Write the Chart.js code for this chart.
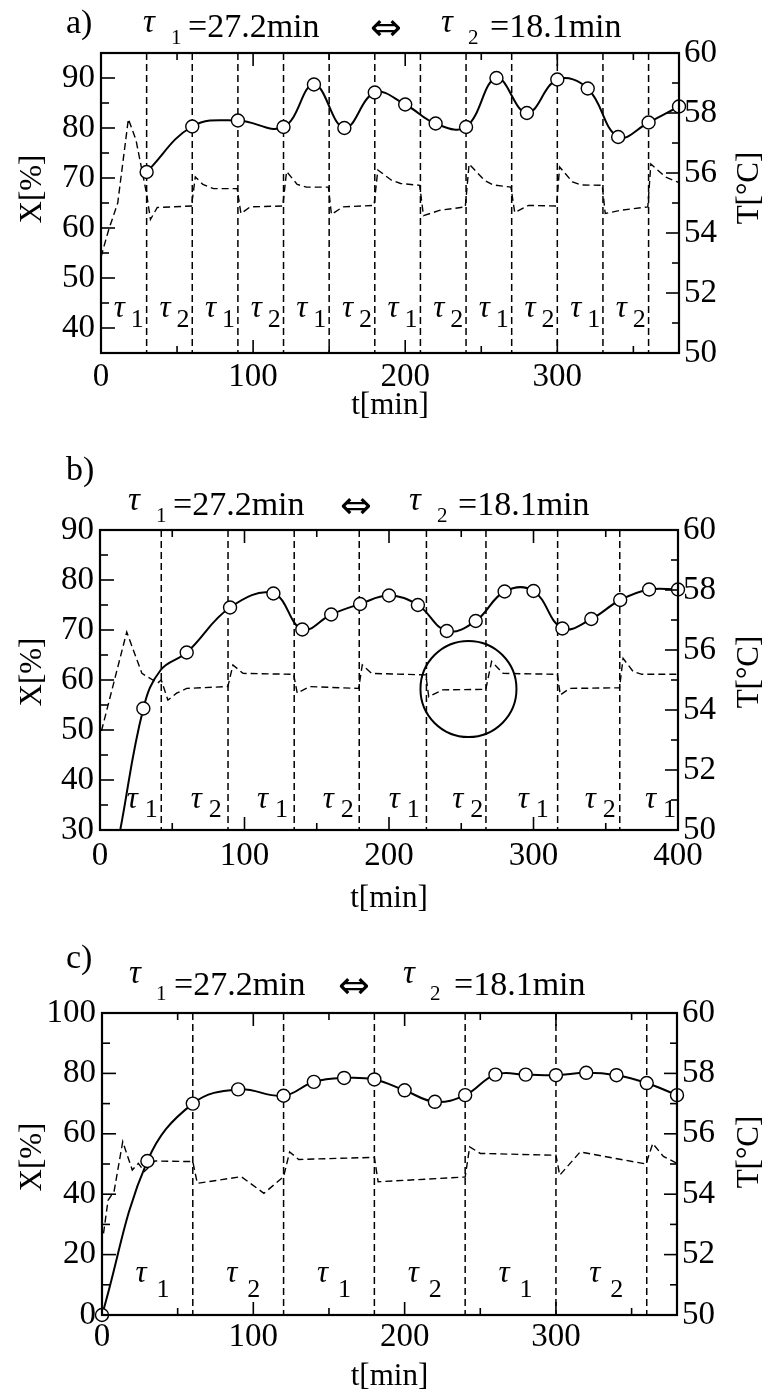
<!DOCTYPE html>
<html>
<head>
<meta charset="utf-8">
<title>Conversion and reactor temperature under alternating residence times</title>
<script src="https://cdn.jsdelivr.net/npm/chart.js@4.4.1/dist/chart.umd.min.js"></script>
<style>
  html, body { margin: 0; padding: 0; background: #fff; }
  #page { position: relative; width: 770px; height: 1394px; overflow: hidden; background: #fff; }
  #page canvas { position: absolute; left: 0; }
</style>
</head>
<body>
<div id="page">
  <canvas id="pa" width="770" height="450" style="top:0px"></canvas>
  <canvas id="pb" width="770" height="490" style="top:450px"></canvas>
  <canvas id="pc" width="770" height="454" style="top:940px"></canvas>
</div>
<script>
// ---------- panel a: residence time switched every 30 min ----------
const switchA = [30, 60, 90, 120, 150, 180, 210, 240, 270, 300, 330, 360];
const phaseA = [1, 2, 1, 2, 1, 2, 1, 2, 1, 2, 1, 2];
const sampleTimeA = [30, 60, 90, 120, 140, 160, 180, 200, 220, 240, 260, 280, 300, 320, 340, 360, 380];
const conversionA = [71.2, 80.3, 81.5, 80.2, 88.7, 80.0, 87.1, 84.7, 80.9, 80.2, 90.0, 83.0, 89.7, 87.9, 78.2, 81.1, 84.3];
const tempTimeA = [0, 5, 11, 18, 23, 30, 32.5, 37, 59.5, 62, 67, 74, 89.5, 92, 98, 119.5, 122, 129, 135, 149.5,
                   151.5, 159, 179.5, 182, 191, 197, 209.5, 212, 223, 239.5, 242, 252, 258, 269.5, 272, 281, 299.5,
                   301.5, 310, 316, 329.5, 331.5, 342, 359.5, 361.5, 371, 380];
const tempA = [53.2, 54.1, 55.0, 57.8, 57.1, 55.3, 54.45, 54.85, 54.9, 55.87, 55.62, 55.48, 55.48, 54.65, 54.87, 54.9,
               56.05, 55.62, 55.53, 55.53, 54.62, 54.87, 54.92, 56.1, 55.76, 55.65, 55.59, 54.58, 54.76, 54.87, 56.3,
               55.76, 55.6, 55.53, 54.68, 54.92, 54.9, 56.2, 55.7, 55.6, 55.59, 54.65, 54.76, 54.87, 56.3, 55.87, 55.68];
const xTicksA = [0, 100, 200, 300];
const xMinorA = [50, 150, 250, 350];
const yTicksA = [40, 50, 60, 70, 80, 90];
const yMinorA = [45, 55, 65, 75, 85];

// ---------- panel b: irregular switching ----------
const switchB = [42.4, 88.6, 134.4, 179.4, 225.9, 267.1, 316.7, 359.7];
const phaseB = [1, 2, 1, 2, 1, 2, 1, 2, 1];
const sampleTimeB = [30, 60, 90, 120, 140, 160, 180, 200, 220, 240, 260, 280, 300, 320, 340, 360, 380, 400];
const conversionB = [54.3, 65.5, 74.5, 77.3, 70.1, 73.1, 75.2, 76.9, 75.0, 69.8, 71.8, 77.7, 77.8, 70.3, 72.2, 76.0, 78.1, 78.1];
const startupTimeB = [14, 42];
const startupConvB = [30, 62];
const tempTimeB = [1, 18.5, 29, 40, 42.4, 47, 53, 60, 88.5, 92, 99, 134, 136.5, 145, 179, 181.5, 188, 225.5, 227.5,
                   237, 267, 271, 279, 316.5, 318.5, 325, 359.5, 362, 369, 375, 400];
const tempB = [53.3, 56.6, 55.22, 54.9, 55.0, 54.33, 54.56, 54.72, 54.78, 55.5, 55.22, 55.19, 54.56, 54.78, 54.72,
               55.5, 55.22, 55.17, 54.44, 54.67, 54.69, 55.62, 55.22, 55.19, 54.5, 54.72, 54.74, 55.72, 55.28, 55.19, 55.19];
const ringTimeB = [255];
const ringConvB = [58.2];
const xTicksB = [0, 100, 200, 300, 400];
const xMinorB = [50, 150, 250, 350];
const yTicksB = [30, 40, 50, 60, 70, 80, 90];
const yMinorB = [35, 45, 55, 65, 75, 85];

// ---------- panel c: residence time switched every 60 min ----------
const switchC = [60, 120, 180, 240, 300, 360];
const phaseC = [1, 2, 1, 2, 1, 2];
const sampleTimeC = [0, 30, 60, 90, 120, 140, 160, 180, 200, 220, 240, 260, 280, 300, 320, 340, 360, 380];
const conversionC = [0, 51.0, 70.0, 74.7, 72.6, 77.2, 78.5, 78.0, 74.4, 70.6, 72.8, 79.6, 79.6, 79.4, 80.2, 79.4, 76.8, 72.8];
const tempTimeC = [1, 4, 8, 13.7, 20, 24, 28, 35, 60, 63, 92, 107, 120, 124, 130, 180, 182.5, 240, 243, 250, 300,
                   302.5, 316, 359.5, 364, 371, 380];
const tempC = [52.7, 53.8, 54.1, 55.74, 54.8, 55.02, 54.75, 55.1, 55.08, 54.36, 54.58, 54.03, 54.58, 55.4, 55.15,
               55.22, 54.41, 54.57, 55.57, 55.35, 55.29, 54.63, 55.4, 55.0, 55.68, 55.25, 55.02];
const xTicksC = [0, 100, 200, 300];
const xMinorC = [50, 150, 250, 350];
const yTicksC = [0, 20, 40, 60, 80, 100];
const yMinorC = [10, 30, 50, 70, 90];

// ---------- shared temperature axis ----------
const tempTicks = [50, 52, 54, 56, 58, 60];
const tempMinor = [51, 53, 55, 57, 59];

const FONT = "'Liberation Serif', 'Times New Roman', Times, serif";
const INK = '#000';

const PANELS = {
  pa: {
    letter: 'a)', xMax: 380, yMin: 35, yMax: 95,
    switches: switchA, phases: phaseA,
    sampleT: sampleTimeA, sampleX: conversionA, leadT: [], leadX: [],
    tempT: tempTimeA, temp: tempA, ringT: [], ringX: [],
    xTicks: xTicksA, xMinor: xMinorA, yTicks: yTicksA, yMinor: yMinorA,
    box: { left: 101, right: 679, top: 53, xHeight: 97, xPad: 5 },
    tau: { dx: -10, subDx: 17, base: -36, subBase: -26 },
    title: { letter: [66, 33], tau1: [143, 32], sub1: [171, 44], eq1: [188, 37], arrow: [370, 40],
             tau2: [441, 32], sub2: [468, 44], eq2: [490, 37] },
    axisTitles: { yLeft: 189, yRight: 188, x: 406 }
  },
  pb: {
    letter: 'b)', xMax: 400, yMin: 30, yMax: 90,
    switches: switchB, phases: phaseB,
    sampleT: sampleTimeB, sampleX: conversionB, leadT: startupTimeB, leadX: startupConvB,
    tempT: tempTimeB, temp: tempB, ringT: ringTimeB, ringX: ringConvB,
    xTicks: xTicksB, xMinor: xMinorB, yTicks: yTicksB, yMinor: yMinorB,
    box: { left: 100, right: 678, top: 80, xHeight: 110, xPad: 7 },
    tau: { dx: -4, subDx: 18, base: -22, subBase: -13 },
    title: { letter: [66, 30], tau1: [128, 60], sub1: [156, 72], eq1: [173, 65], arrow: [340, 68],
             tau2: [409, 60], sub2: [437, 72], eq2: [458, 65] },
    axisTitles: { yLeft: 222, yRight: 222, x: 449 }
  },
  pc: {
    letter: 'c)', xMax: 380, yMin: 0, yMax: 100,
    switches: switchC, phases: phaseC,
    sampleT: sampleTimeC, sampleX: conversionC, leadT: [], leadX: [],
    tempT: tempTimeC, temp: tempC, ringT: [], ringX: [],
    xTicks: xTicksC, xMinor: xMinorC, yTicks: yTicksC, yMinor: yMinorC,
    box: { left: 102, right: 677, top: 73, xHeight: 79, xPad: 3 },
    tau: { dx: -12, subDx: 21, base: -33, subBase: -18 },
    title: { letter: [66, 28], tau1: [129, 43], sub1: [156, 60], eq1: [174, 55], arrow: [338, 58],
             tau2: [403, 43], sub2: [430, 60], eq2: [454, 55] },
    axisTitles: { yLeft: 217, yRight: 212, x: 437 }
  }
};

// Switching lines, inward tick marks, frame, phase labels and panel headings.
const panelDeco = {
  id: 'panelDeco',
  beforeDatasetsDraw(chart) {
    const p = PANELS[chart.canvas.id];
    if (!p) return;
    const { ctx, chartArea: a } = chart;
    const xs = chart.scales.x;
    ctx.save();
    ctx.strokeStyle = INK;
    ctx.lineWidth = 1.5;
    ctx.setLineDash([7, 4]);
    p.switches.forEach(t => {
      const px = xs.getPixelForValue(t);
      ctx.beginPath();
      ctx.moveTo(px, a.top);
      ctx.lineTo(px, a.bottom);
      ctx.stroke();
    });
    ctx.restore();
  },
  afterDatasetsDraw(chart) {
    const p = PANELS[chart.canvas.id];
    if (!p) return;
    const { ctx, chartArea: a } = chart;
    const xs = chart.scales.x, yl = chart.scales.y, yr = chart.scales.y2;
    const seg = (x1, y1, x2, y2) => { ctx.beginPath(); ctx.moveTo(x1, y1); ctx.lineTo(x2, y2); ctx.stroke(); };
    ctx.save();
    ctx.strokeStyle = INK;
    ctx.lineWidth = 1.6;
    p.xTicks.forEach(v => { const px = xs.getPixelForValue(v); seg(px, a.bottom, px, a.bottom - 13); seg(px, a.top, px, a.top + 13); });
    p.xMinor.forEach(v => { const px = xs.getPixelForValue(v); seg(px, a.bottom, px, a.bottom - 7); seg(px, a.top, px, a.top + 7); });
    p.yTicks.forEach(v => { const py = yl.getPixelForValue(v); seg(a.left, py, a.left + 14, py); });
    p.yMinor.forEach(v => { const py = yl.getPixelForValue(v); seg(a.left, py, a.left + 8, py); });
    tempTicks.forEach(v => { const py = yr.getPixelForValue(v); seg(a.right, py, a.right - 13, py); });
    tempMinor.forEach(v => { const py = yr.getPixelForValue(v); seg(a.right, py, a.right - 7, py); });
    ctx.lineWidth = 2.2;
    ctx.strokeRect(a.left, a.top, a.right - a.left, a.bottom - a.top);

    const bounds = [0].concat(p.switches, [p.xMax]);
    ctx.fillStyle = INK;
    ctx.textAlign = 'left';
    ctx.textBaseline = 'alphabetic';
    p.phases.forEach((ph, i) => {
      const cx = (xs.getPixelForValue(bounds[i]) + xs.getPixelForValue(bounds[i + 1])) / 2;
      ctx.font = `italic 31px ${FONT}`;
      ctx.fillText('\u03C4', cx + p.tau.dx, a.bottom + p.tau.base);
      ctx.font = `26px ${FONT}`;
      ctx.fillText(String(ph), cx + p.tau.dx + p.tau.subDx, a.bottom + p.tau.subBase);
    });
    ctx.restore();
  },
  afterDraw(chart) {
    const p = PANELS[chart.canvas.id];
    if (!p) return;
    const { ctx, chartArea: a } = chart;
    const T = p.title;
    const big = `34px ${FONT}`, tau = `italic 33px ${FONT}`, sub = `21px ${FONT}`;
    const arrow = "38px 'DejaVu Sans', sans-serif";
    const put = (txt, pos, font) => { ctx.font = font; ctx.fillText(txt, pos[0], pos[1]); };
    ctx.save();
    ctx.fillStyle = INK;
    ctx.textAlign = 'left';
    ctx.textBaseline = 'alphabetic';
    put(p.letter, T.letter, big);
    put('\u03C4', T.tau1, tau);
    put('1', T.sub1, sub);
    put('=27.2min', T.eq1, big);
    put('\u21D4', T.arrow, arrow);
    put('\u03C4', T.tau2, tau);
    put('2', T.sub2, sub);
    put('=18.1min', T.eq2, big);

    ctx.font = `31px ${FONT}`;
    ctx.textAlign = 'center';
    ctx.textBaseline = 'middle';
    ctx.fillText('t[min]', (a.left + a.right) / 2, p.axisTitles.x);
    ctx.save();
    ctx.translate(33, p.axisTitles.yLeft);
    ctx.rotate(-Math.PI / 2);
    ctx.fillText('X[%]', 0, 0);
    ctx.restore();
    ctx.save();
    ctx.translate(750, p.axisTitles.yRight);
    ctx.rotate(-Math.PI / 2);
    ctx.fillText('T[\u00B0C]', 0, 0);
    ctx.restore();
    ctx.restore();
  }
};
Chart.register(panelDeco);

function points(xs, ys) {
  return xs.map((x, i) => ({ x: x, y: ys[i] }));
}

function makeChart(id) {
  const p = PANELS[id];
  const curve = points(p.leadT.concat(p.sampleT), p.leadX.concat(p.sampleX)).sort((u, v) => u.x - v.x);
  const datasets = [
    { label: 'T', data: points(p.tempT, p.temp), yAxisID: 'y2', borderColor: INK, borderWidth: 1.4,
      borderDash: [7, 4], pointRadius: 0, tension: 0, fill: false, order: 4 },
    { label: 'X curve', data: curve, yAxisID: 'y', borderColor: INK, borderWidth: 2,
      pointRadius: 0, tension: 0.4, fill: false, order: 3 },
    { label: 'X', data: points(p.sampleT, p.sampleX), yAxisID: 'y', showLine: false,
      pointRadius: 6.5, pointHoverRadius: 6.5, pointBackgroundColor: '#fff', pointBorderColor: INK,
      pointBorderWidth: 1.4, clip: false, order: 1 }
  ];
  if (p.ringT.length) {
    datasets.push({ label: 'ring', data: points(p.ringT, p.ringX), yAxisID: 'y', showLine: false,
      pointRadius: 48, pointHoverRadius: 48, pointBackgroundColor: 'rgba(0,0,0,0)', pointBorderColor: INK,
      pointBorderWidth: 2, clip: false, order: 2 });
  }
  const tickFont = { family: FONT, size: 33 };
  return new Chart(document.getElementById(id), {
    type: 'line',
    data: { datasets: datasets },
    options: {
      responsive: false,
      animation: false,
      devicePixelRatio: 1,
      events: [],
      layout: { padding: { top: p.box.top, left: 0, right: 0, bottom: 0 } },
      plugins: { legend: { display: false }, tooltip: { enabled: false }, title: { display: false } },
      scales: {
        x: {
          type: 'linear', position: 'bottom', min: 0, max: p.xMax,
          grid: { display: false, drawTicks: false }, border: { display: false },
          ticks: { color: INK, font: tickFont, padding: p.box.xPad, maxRotation: 0, autoSkip: false,
                   callback: v => String(v) },
          afterBuildTicks: s => { s.ticks = p.xTicks.map(v => ({ value: v })); },
          afterFit: s => { s.height = p.box.xHeight; }
        },
        y: {
          type: 'linear', position: 'left', min: p.yMin, max: p.yMax,
          grid: { display: false, drawTicks: false }, border: { display: false },
          ticks: { color: INK, font: tickFont, padding: 6, autoSkip: false, callback: v => String(v) },
          afterBuildTicks: s => { s.ticks = p.yTicks.map(v => ({ value: v })); },
          afterFit: s => { s.width = p.box.left; }
        },
        y2: {
          type: 'linear', position: 'right', min: 50, max: 60,
          grid: { display: false, drawTicks: false }, border: { display: false },
          ticks: { color: INK, font: tickFont, padding: 5, autoSkip: false, callback: v => String(v) },
          afterBuildTicks: s => { s.ticks = tempTicks.map(v => ({ value: v })); },
          afterFit: s => { s.width = 770 - p.box.right; }
        }
      }
    }
  });
}

['pa', 'pb', 'pc'].forEach(makeChart);
</script>
</body>
</html>
